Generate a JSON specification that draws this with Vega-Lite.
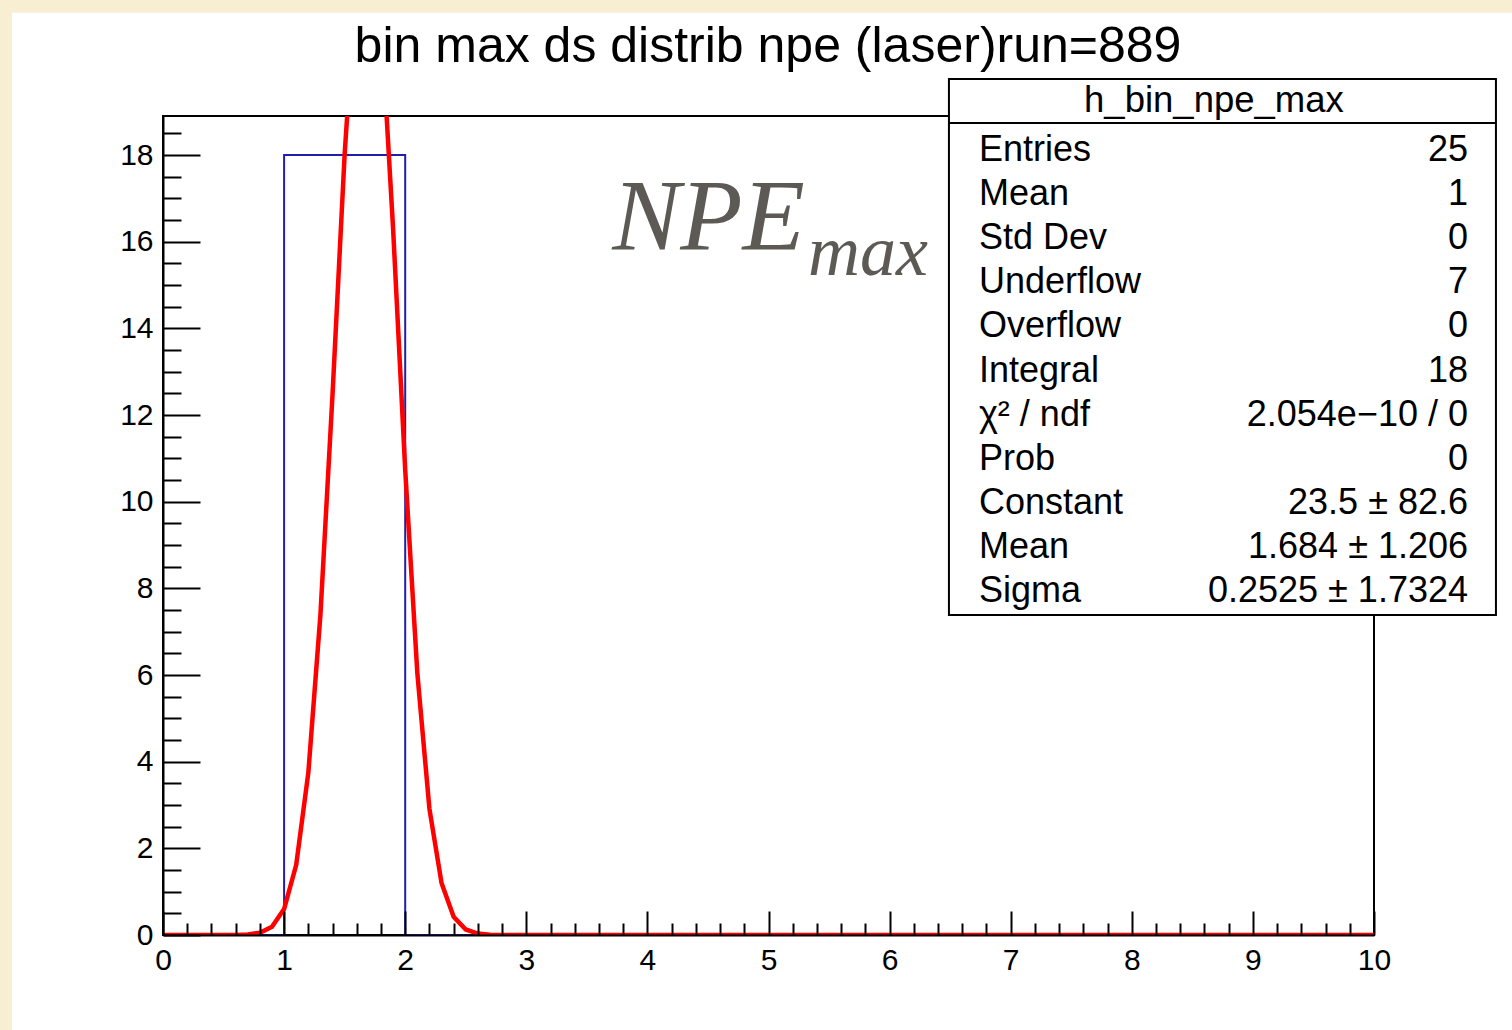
{
  "$schema": "https://vega.github.io/schema/vega-lite/v6.json",
  "width": 1211,
  "height": 819,
  "autosize": {"type": "none"},
  "padding": {"left": 163, "top": 116, "right": 138, "bottom": 95},
  "background": "#f8efd2",
  "config": {"view": {"stroke": null}, "font": "Liberation Sans"},
  "datasets": {
    "hist": [
      {"npe": 0, "count": 0}, {"npe": 1, "count": 18}, {"npe": 2, "count": 0},
      {"npe": 3, "count": 0}, {"npe": 4, "count": 0}, {"npe": 5, "count": 0},
      {"npe": 6, "count": 0}, {"npe": 7, "count": 0}, {"npe": 8, "count": 0},
      {"npe": 9, "count": 0}, {"npe": 10, "count": 0}
    ],
    "fit": [
      {"x": 0, "f": 0}, {"x": 0.5, "f": 0.0004}, {"x": 0.6, "f": 0.0023},
      {"x": 0.7, "f": 0.012}, {"x": 0.8, "f": 0.051}, {"x": 0.9, "f": 0.189},
      {"x": 1.0, "f": 0.599}, {"x": 1.1, "f": 1.619}, {"x": 1.2, "f": 3.743},
      {"x": 1.3, "f": 7.39}, {"x": 1.4, "f": 12.48}, {"x": 1.5, "f": 18.02},
      {"x": 1.6, "f": 22.24}, {"x": 1.7, "f": 23.45}, {"x": 1.8, "f": 21.15},
      {"x": 1.9, "f": 16.3}, {"x": 2.0, "f": 10.74}, {"x": 2.1, "f": 6.05},
      {"x": 2.2, "f": 2.912}, {"x": 2.3, "f": 1.199}, {"x": 2.4, "f": 0.422},
      {"x": 2.5, "f": 0.127}, {"x": 2.6, "f": 0.033}, {"x": 2.7, "f": 0.007},
      {"x": 2.8, "f": 0.001}, {"x": 2.9, "f": 0}, {"x": 10, "f": 0}
    ],
    "stats": [
      {"row": 1, "label": "Entries", "value": "25"},
      {"row": 2, "label": "Mean", "value": "1"},
      {"row": 3, "label": "Std Dev", "value": "0"},
      {"row": 4, "label": "Underflow", "value": "7"},
      {"row": 5, "label": "Overflow", "value": "0"},
      {"row": 6, "label": "Integral", "value": "18"},
      {"row": 7, "label": "χ² / ndf", "value": "2.054e−10 / 0"},
      {"row": 8, "label": "Prob", "value": "0"},
      {"row": 9, "label": "Constant", "value": "23.5 ± 82.6"},
      {"row": 10, "label": "Mean", "value": "1.684 ± 1.206"},
      {"row": 11, "label": "Sigma", "value": "0.2525 ± 1.7324"}
    ]
  },
  "layer": [
    {
      "layer": [
        {
          "data": {"values": [{}]},
          "mark": {"type": "rect", "fill": "white"},
          "encoding": {
            "x": {"datum": -1.247, "type": "quantitative", "scale": {"domain": [0, 10], "nice": false, "zero": false}, "axis": null},
            "x2": {"datum": 11.5},
            "y": {"datum": 21.28, "type": "quantitative", "scale": {"domain": [0, 18.9], "nice": false, "zero": false}, "axis": null},
            "y2": {"datum": -3}
          }
        },
        {
          "data": {"values": [{}]},
          "mark": {"type": "rect", "fill": "transparent", "stroke": "black", "strokeWidth": 2},
          "encoding": {
            "x": {"datum": 0, "type": "quantitative", "scale": {"domain": [0, 10], "nice": false, "zero": false}, "axis": null},
            "x2": {"datum": 10},
            "y": {"datum": 0, "type": "quantitative", "scale": {"domain": [0, 18.9], "nice": false, "zero": false}, "axis": null},
            "y2": {"datum": 18.9}
          }
        },
        {
          "data": {"name": "hist"},
          "mark": {"type": "line", "interpolate": "step-after", "color": "#1f1fa8", "strokeWidth": 2},
          "encoding": {
            "x": {
              "field": "npe", "type": "quantitative",
              "scale": {"domain": [0, 10], "nice": false, "zero": false},
              "axis": {
                "orient": "bottom", "values": [0, 1, 2, 3, 4, 5, 6, 7, 8, 9, 10], "format": "d",
                "tickSize": -24, "tickWidth": 2, "tickColor": "black",
                "domain": true, "domainColor": "black", "domainWidth": 2,
                "labelFont": "Liberation Sans", "labelFontSize": 30, "labelColor": "black",
                "labelPadding": 34, "labelFlush": false, "labelOverlap": false,
                "grid": false, "title": null, "zindex": 2
              }
            },
            "y": {
              "field": "count", "type": "quantitative",
              "scale": {"domain": [0, 18.9], "nice": false, "zero": false},
              "axis": {
                "orient": "left", "values": [0, 2, 4, 6, 8, 10, 12, 14, 16, 18], "format": "d",
                "tickSize": -37, "tickWidth": 2, "tickColor": "black",
                "domain": true, "domainColor": "black", "domainWidth": 2,
                "labelFont": "Liberation Sans", "labelFontSize": 30, "labelColor": "black",
                "labelPadding": 47, "labelFlush": false, "labelOverlap": false,
                "grid": false, "title": null, "zindex": 2
              }
            }
          }
        },
        {
          "data": {"name": "fit"},
          "mark": {"type": "line", "color": "#ff0000", "strokeWidth": 4.5, "clip": true},
          "encoding": {
            "x": {
              "field": "x", "type": "quantitative",
              "scale": {"domain": [0, 10], "nice": false, "zero": false},
              "axis": {
                "orient": "bottom",
                "values": [0.2, 0.4, 0.6, 0.8, 1.2, 1.4, 1.6, 1.8, 2.2, 2.4, 2.6, 2.8, 3.2, 3.4, 3.6, 3.8, 4.2, 4.4, 4.6, 4.8, 5.2, 5.4, 5.6, 5.8, 6.2, 6.4, 6.6, 6.8, 7.2, 7.4, 7.6, 7.8, 8.2, 8.4, 8.6, 8.8, 9.2, 9.4, 9.6, 9.8],
                "tickSize": -12, "tickWidth": 2, "tickColor": "black",
                "domain": false, "labels": false, "grid": false, "title": null, "zindex": 2
              }
            },
            "y": {
              "field": "f", "type": "quantitative",
              "scale": {"domain": [0, 18.9], "nice": false, "zero": false},
              "axis": {
                "orient": "left",
                "values": [0.5, 1, 1.5, 2.5, 3, 3.5, 4.5, 5, 5.5, 6.5, 7, 7.5, 8.5, 9, 9.5, 10.5, 11, 11.5, 12.5, 13, 13.5, 14.5, 15, 15.5, 16.5, 17, 17.5, 18.5],
                "tickSize": -18, "tickWidth": 2, "tickColor": "black",
                "domain": false, "labels": false, "grid": false, "title": null, "zindex": 2
              }
            }
          }
        },
        {
          "data": {"values": [{}]},
          "mark": {"type": "text", "text": "NPE", "font": "Liberation Serif", "fontStyle": "italic", "fontSize": 102, "color": "#5d5a55", "align": "left", "baseline": "alphabetic"},
          "encoding": {
            "x": {"datum": 3.71, "type": "quantitative", "scale": {"domain": [0, 10], "nice": false, "zero": false}, "axis": null},
            "y": {"datum": 15.81, "type": "quantitative", "scale": {"domain": [0, 18.9], "nice": false, "zero": false}, "axis": null}
          }
        },
        {
          "data": {"values": [{}]},
          "mark": {"type": "text", "text": "max", "font": "Liberation Serif", "fontStyle": "italic", "fontSize": 72, "color": "#5d5a55", "align": "left", "baseline": "alphabetic"},
          "encoding": {
            "x": {"datum": 5.326, "type": "quantitative", "scale": {"domain": [0, 10], "nice": false, "zero": false}, "axis": null},
            "y": {"datum": 15.232, "type": "quantitative", "scale": {"domain": [0, 18.9], "nice": false, "zero": false}, "axis": null}
          }
        },
        {
          "data": {"values": [{}]},
          "mark": {"type": "rect", "fill": "white", "stroke": "black", "strokeWidth": 2},
          "encoding": {
            "x": {"datum": 6.49, "type": "quantitative", "scale": {"domain": [0, 10], "nice": false, "zero": false}, "axis": null},
            "x2": {"datum": 11.007},
            "y": {"datum": 19.755, "type": "quantitative", "scale": {"domain": [0, 18.9], "nice": false, "zero": false}, "axis": null},
            "y2": {"datum": 7.385}
          }
        },
        {
          "data": {"values": [{}]},
          "mark": {"type": "rule", "color": "black", "strokeWidth": 2},
          "encoding": {
            "x": {"datum": 6.49, "type": "quantitative", "scale": {"domain": [0, 10], "nice": false, "zero": false}, "axis": null},
            "x2": {"datum": 11.007},
            "y": {"datum": 18.74, "type": "quantitative", "scale": {"domain": [0, 18.9], "nice": false, "zero": false}, "axis": null}
          }
        },
        {
          "data": {"values": [{}]},
          "mark": {"type": "text", "text": "h_bin_npe_max", "font": "Liberation Sans", "fontSize": 36.5, "color": "black", "align": "center", "baseline": "middle"},
          "encoding": {
            "x": {"datum": 8.678, "type": "quantitative", "scale": {"domain": [0, 10], "nice": false, "zero": false}, "axis": null},
            "y": {"datum": 19.247, "type": "quantitative", "scale": {"domain": [0, 18.9], "nice": false, "zero": false}, "axis": null}
          }
        },
        {
          "data": {"values": [{}]},
          "mark": {"type": "text", "text": "bin max ds distrib npe (laser)run=889", "font": "Liberation Sans", "fontSize": 50, "color": "black", "align": "center", "baseline": "alphabetic"},
          "encoding": {
            "x": {"datum": 4.996, "type": "quantitative", "scale": {"domain": [0, 10], "nice": false, "zero": false}, "axis": null},
            "y": {"datum": 20.148, "type": "quantitative", "scale": {"domain": [0, 18.9], "nice": false, "zero": false}, "axis": null}
          }
        }
      ],
      "resolve": {"axis": {"x": "independent", "y": "independent"}}
    },
    {
      "data": {"name": "stats"},
      "layer": [
        {
          "mark": {"type": "text", "align": "left", "baseline": "middle", "font": "Liberation Sans", "fontSize": 36, "color": "black"},
          "encoding": {
            "x": {"datum": 6.738, "type": "quantitative", "scale": {"domain": [0, 10], "nice": false, "zero": false}, "axis": null},
            "y": {"field": "row", "type": "quantitative", "scale": {"domain": [0.229, 18.8], "reverse": true, "nice": false, "zero": false}, "axis": null},
            "text": {"field": "label"}
          }
        },
        {
          "mark": {"type": "text", "align": "right", "baseline": "middle", "font": "Liberation Sans", "fontSize": 36, "color": "black"},
          "encoding": {
            "x": {"datum": 10.776, "type": "quantitative", "scale": {"domain": [0, 10], "nice": false, "zero": false}, "axis": null},
            "y": {"field": "row", "type": "quantitative", "scale": {"domain": [0.229, 18.8], "reverse": true, "nice": false, "zero": false}, "axis": null},
            "text": {"field": "value"}
          }
        }
      ]
    }
  ],
  "resolve": {"scale": {"y": "independent"}, "axis": {"x": "independent", "y": "independent"}}
}
